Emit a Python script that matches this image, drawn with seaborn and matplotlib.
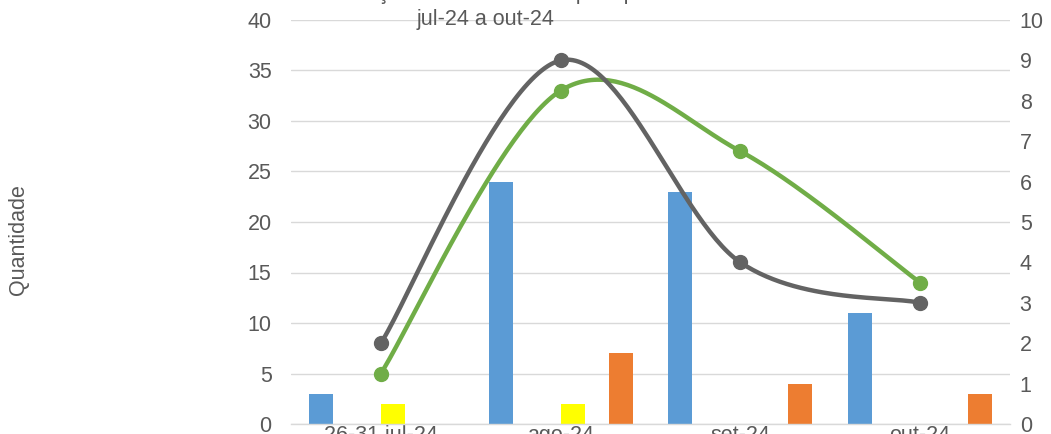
import numpy as np
import pandas as pd
import matplotlib
matplotlib.use("Agg")
import matplotlib.pyplot as plt
import seaborn as sns

# ---- data -------------------------------------------------------------
categorias = ["26-31 jul-24", "ago-24", "set-24", "out-24"]
series_barras = ["Série 1", "Série 2", "Série 3", "Série 4", "Série 5", "Série 6"]
serie_1 = [3, 24, 23, 11]      # blue bars
serie_2 = [0, 0, 0, 0]
serie_3 = [0, 0, 0, 0]
serie_4 = [2, 2, 0, 0]         # yellow bars
serie_5 = [0, 0, 0, 0]
serie_6 = [0, 7, 4, 3]         # orange bars
linha_verde = [5, 33, 27, 14]  # left axis
linha_cinza = [2, 9, 4, 3]     # right axis
ticks_esq = [0, 5, 10, 15, 20, 25, 30, 35, 40]
ticks_dir = list(range(0, 11))

# ---- style ------------------------------------------------------------
sns.set_theme(style="white")
plt.rcParams["font.family"] = ["Liberation Sans Narrow", "Liberation Sans", "DejaVu Sans"]
TXT = "#595959"
GRID = "#D9D9D9"
FS = 15.5

cores = ["#5B9BD5", "#A5A5A5", "#4472C4", "#FFFF00", "#264478", "#ED7D31"]

df = pd.DataFrame({
    "categoria": np.repeat(categorias, len(series_barras)),
    "serie": series_barras * len(categorias),
    "valor": np.array([serie_1, serie_2, serie_3, serie_4, serie_5, serie_6]).T.ravel(),
})

W, H = 1051, 434
fig = plt.figure(figsize=(W / 100, H / 100), dpi=100)
L, R, B, T = 291, 1010, 424, 20
ax = fig.add_axes([L / W, 1 - B / H, (R - L) / W, (B - T) / H])

sns.barplot(data=df, x="categoria", y="valor", hue="serie",
            order=categorias, hue_order=series_barras, palette=cores,
            width=0.8, dodge=True, saturation=1, linewidth=0,
            legend=False, ax=ax, zorder=2)

ax.set_xlim(-0.5, len(categorias) - 0.5)
ax.set_ylim(0, 40)
ax.set_yticks(ticks_esq)
ax.yaxis.grid(True, color=GRID, linewidth=1.0, zorder=0)
ax.set_axisbelow(True)
for s in ["top", "left", "right"]:
    ax.spines[s].set_visible(False)
ax.spines["bottom"].set_color(GRID)
ax.spines["bottom"].set_linewidth(1.0)

ax.tick_params(axis="y", length=0, pad=14, labelsize=FS, labelcolor=TXT)
ax.tick_params(axis="x", which="major", length=0, pad=1, labelsize=FS, labelcolor=TXT)
ax.set_xticks(np.arange(-0.5, len(categorias)), minor=True)
ax.tick_params(axis="x", which="minor", length=10, width=1.0, color=GRID, direction="out")
ax.set_xlabel("")
ax.set_ylabel("Quantidade", fontsize=FS, color=TXT)
ax.yaxis.set_label_coords((29 - L) / (R - L), (B - 240) / (B - T))

ax2 = ax.twinx()
ax2.set_ylim(0, 10)
ax2.set_yticks(ticks_dir)
for s in ax2.spines.values():
    s.set_visible(False)
ax2.tick_params(axis="y", length=0, pad=7, labelsize=FS, labelcolor=TXT)
ax2.grid(False)


def curva_suave(xs, ys, px_x, px_y, n=60):
    """Bezier smoothing through every point (Catmull-Rom tangents), in screen proportions."""
    P = np.column_stack([np.asarray(xs, float) * px_x, np.asarray(ys, float) * px_y])
    m = len(P)
    out = []
    for i in range(m - 1):
        p0 = P[max(i - 1, 0)]
        p1, p2 = P[i], P[i + 1]
        p3 = P[min(i + 2, m - 1)]
        c1 = p1 + (p2 - p0) / 6.0
        c2 = p2 - (p3 - p1) / 6.0
        t = np.linspace(0, 1, n)[:, None]
        seg = ((1 - t) ** 3) * p1 + 3 * ((1 - t) ** 2) * t * c1 + 3 * (1 - t) * t ** 2 * c2 + t ** 3 * p2
        out.append(seg if i == 0 else seg[1:])
    c = np.vstack(out)
    return c[:, 0] / px_x, c[:, 1] / px_y


xpos = np.arange(len(categorias))
px_cat = (R - L) / len(categorias)

# green line on the left axis
gx, gy = curva_suave(xpos, linha_verde, px_cat, (B - T) / 40)
sns.lineplot(x=gx, y=gy, sort=False, color="#70AD47", linewidth=3.2, ax=ax, zorder=4)
ax.plot(xpos, linha_verde, "o", color="#70AD47", markersize=10, zorder=5, clip_on=False)

# gray line on the right axis
cx, cy = curva_suave(xpos, linha_cinza, px_cat, (B - T) / 10)
sns.lineplot(x=cx, y=cy, sort=False, color="#636363", linewidth=3.2, ax=ax2, zorder=4)
ax2.plot(xpos, linha_cinza, "o", color="#636363", markersize=10, zorder=5, clip_on=False)
ax2.set_xlim(-0.5, len(categorias) - 0.5)

# two-line title
fig.text(486 / W, 1 + 7 / H, "Evolução das ocorrências por tipo", ha="center", va="center",
         fontsize=FS, color=TXT)
fig.text(486 / W, 1 - 20 / H, "jul-24 a out-24", ha="center", va="center",
         fontsize=FS, color=TXT)

fig.savefig("out.png", dpi=100)
